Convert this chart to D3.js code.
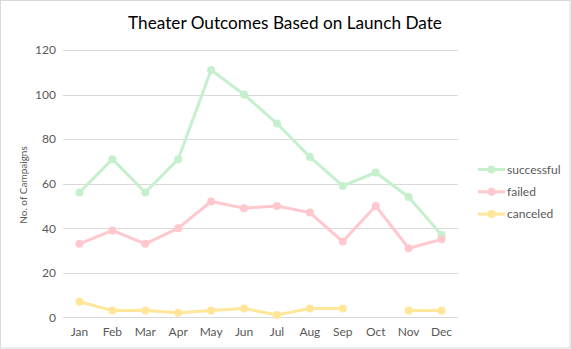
<!DOCTYPE html>
<html><head><meta charset="utf-8">
<script src="https://cdn.jsdelivr.net/npm/d3@7"></script>
<style>body{margin:0;background:#fff}svg{display:block}</style>
</head><body>
<script>
const months = ["Jan","Feb","Mar","Apr","May","Jun","Jul","Aug","Sep","Oct","Nov","Dec"];
const successful = [56,71,56,71,111,100,87,72,59,65,54,37];
const failed = [33,39,33,40,52,49,50,47,34,50,31,35];
const canceled = [7,3,3,2,3,4,1,4,4,null,3,3];
const yTicks = [0,20,40,60,80,100,120];
const seriesNames = ["successful","failed","canceled"];
const seriesColors = ["#c6efce","#ffc7ce","#ffe699"];
const seriesValues = [successful, failed, canceled];

const W = 571, H = 349;
const svg = d3.select("body").append("svg").attr("width", W).attr("height", H);
svg.append("rect").attr("x",0.5).attr("y",0.5).attr("width",W-1.5).attr("height",H-1.5)
  .attr("fill","#fff").attr("stroke","#d9d9d9");

const x = d3.scaleBand().domain(months).range([63, 458]);
const y = d3.scaleLinear().domain([0,120]).range([317.3, 50]);
const font = "Lato, 'Open Sans', sans-serif";

svg.append("text").attr("x", 285).attr("y", 29).attr("text-anchor","middle")
  .attr("font-family", font).attr("font-size", 17.2).attr("fill","#000")
  .text("Theater Outcomes Based on Launch Date");

// gridlines
svg.append("g").selectAll("line").data(yTicks).join("line")
  .attr("x1", 63).attr("x2", 458)
  .attr("y1", d => Math.round(y(d))+0.5).attr("y2", d => Math.round(y(d))+0.5)
  .attr("stroke", "#d9d9d9").attr("stroke-width", 1);

// y axis labels
const yAxis = svg.append("g").attr("transform","translate(58,0)")
  .call(d3.axisLeft(y).tickValues(yTicks).tickSize(0).tickPadding(0));
yAxis.select(".domain").remove();
yAxis.selectAll("text").attr("font-family", font).attr("font-size", 12).attr("fill","#595959").attr("x",-2);

// x axis labels
const xAxis = svg.append("g").attr("transform","translate(0,327)")
  .call(d3.axisBottom(x).tickSize(0).tickPadding(0));
xAxis.select(".domain").remove();
xAxis.selectAll("text").attr("font-family", font).attr("font-size", 12).attr("fill","#595959").attr("dy","0.71em");

// y axis title
svg.append("text").attr("transform","translate(27,185) rotate(-90)").attr("text-anchor","middle")
  .attr("font-family", font).attr("font-size", 10).attr("fill","#595959").text("No. of Campaigns");

const cx = m => x(m) + x.bandwidth()/2;
const line = d3.line().defined(d => d.v != null).x(d => cx(d.m)).y(d => y(d.v));

seriesNames.forEach((name, i) => {
  const data = months.map((m, j) => ({m, v: seriesValues[i][j]}));
  const g = svg.append("g");
  g.append("path").datum(data).attr("d", line).attr("fill","none")
    .attr("stroke", seriesColors[i]).attr("stroke-width", 3).attr("stroke-linejoin","round").attr("stroke-linecap","round");
  g.selectAll("circle").data(data.filter(d => d.v != null)).join("circle")
    .attr("cx", d => cx(d.m)).attr("cy", d => y(d.v)).attr("r", 4).attr("fill", seriesColors[i]);
});

// legend
const leg = svg.append("g");
seriesNames.forEach((name, i) => {
  const ly = 169.5 + i*22.3;
  leg.append("line").attr("x1",478).attr("x2",505).attr("y1",ly).attr("y2",ly)
    .attr("stroke", seriesColors[i]).attr("stroke-width",3);
  leg.append("circle").attr("cx",491.5).attr("cy",ly).attr("r",4).attr("fill",seriesColors[i]);
  leg.append("text").attr("x",507).attr("y",ly).attr("dy","0.35em")
    .attr("font-family", font).attr("font-size", 12).attr("fill","#595959").text(name);
});
</script>
</body></html>
